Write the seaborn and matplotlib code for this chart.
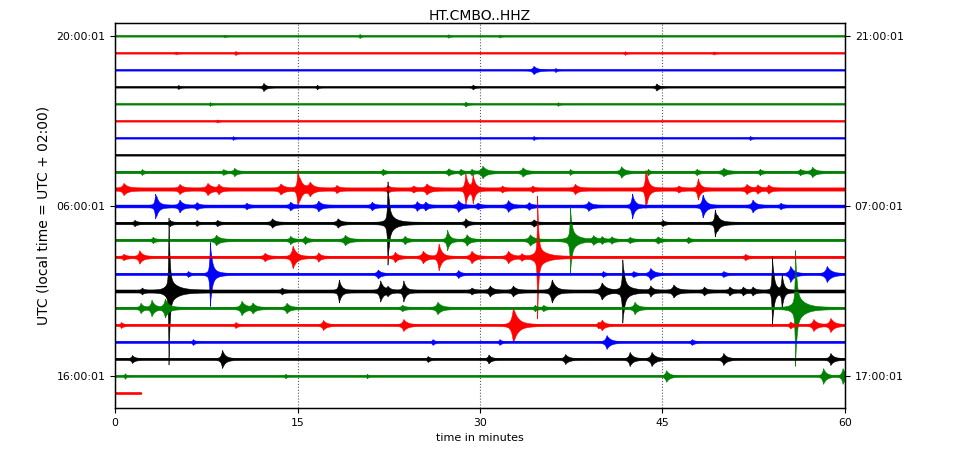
import numpy as np
import pandas as pd
import matplotlib
matplotlib.use("Agg")
import matplotlib.pyplot as plt
import seaborn as sns

# one trace per hour, 20:00 UTC through 17:00 UTC next day
trace_colors = ["green", "red", "blue", "black"]
n_traces = 22
trace_end = [60] * 21 + [2.1]   # last hour only has ~2 minutes of data

# background noise half-width in pixels per trace
noise_px = [0.6, 0.6, 0.6, 0.6, 0.6, 0.6, 0.6, 0.6,
            1.2, 1.6, 1.4, 1.2, 1.2, 1.2, 1.0, 1.5,
            1.2, 1.0, 0.9, 1.0, 0.8, 0.8]

left_ticks = [0, 10, 20]
left_labels = ["20:00:01", "06:00:01", "16:00:01"]
right_labels = ["21:00:01", "07:00:01", "17:00:01"]

# events: (trace, minute, half-amplitude px, decay minutes)
events = [
    (0, 9.0, 0.8, 0.1), (0, 20.1, 1.5, 0.1), (0, 27.4, 1.2, 0.1), (0, 31.6, 1.0, 0.1),
    (1, 5.0, 0.8, 0.1), (1, 9.9, 1.5, 0.1), (1, 41.9, 1.2, 0.1), (1, 49.2, 1.0, 0.1),
    (2, 34.4, 3.5, 0.3), (2, 36.2, 1.5, 0.1),
    (3, 5.2, 1.5, 0.1), (3, 12.2, 3.5, 0.2), (3, 16.6, 1.8, 0.1), (3, 29.4, 1.8, 0.15),
    (3, 44.5, 3.0, 0.2),
    (4, 7.8, 1.3, 0.1), (4, 28.8, 1.8, 0.15), (4, 36.4, 1.2, 0.1),
    (5, 8.4, 1.0, 0.1),
    (6, 9.7, 1.3, 0.1), (6, 34.4, 1.5, 0.1), (6, 52.2, 1.5, 0.1),
    (8, 2.2, 1.8, 0.1), (8, 8.9, 1.8, 0.15), (8, 9.8, 3.0, 0.2), (8, 22.0, 2.0, 0.15),
    (8, 27.4, 2.5, 0.2), (8, 28.4, 2.0, 0.15), (8, 29.3, 2.0, 0.15), (8, 30.2, 5.0, 0.3),
    (8, 33.5, 3.5, 0.25), (8, 37.4, 1.8, 0.1), (8, 41.6, 4.5, 0.25), (8, 43.8, 2.0, 0.1),
    (8, 47.8, 2.0, 0.15), (8, 50.0, 3.0, 0.3), (8, 53.0, 2.0, 0.15), (8, 56.3, 2.0, 0.2),
    (8, 57.3, 4.0, 0.25),
    (9, 0.7, 4.5, 0.3), (9, 5.3, 3.5, 0.25), (9, 7.6, 4.5, 0.3), (9, 8.5, 3.5, 0.2),
    (9, 13.6, 4.0, 0.3), (9, 15.0, 16.0, 0.15), (9, 15.2, 5.0, 0.4), (9, 16.0, 5.0, 0.3),
    (9, 18.2, 2.5, 0.2), (9, 22.4, 2.5, 0.2), (9, 24.5, 2.0, 0.2), (9, 25.6, 4.0, 0.3),
    (9, 28.8, 14.0, 0.2), (9, 29.4, 12.0, 0.2), (9, 31.8, 2.0, 0.15), (9, 34.3, 2.0, 0.15),
    (9, 37.8, 3.5, 0.25), (9, 43.6, 15.0, 0.15), (9, 43.7, 5.0, 0.3), (9, 46.3, 2.0, 0.2),
    (9, 47.9, 9.0, 0.2), (9, 51.9, 3.5, 0.25), (9, 52.8, 3.0, 0.2), (9, 53.7, 3.0, 0.2),
    (10, 3.3, 9.0, 0.15), (10, 3.4, 4.0, 0.3), (10, 5.3, 5.0, 0.25), (10, 6.7, 2.5, 0.2),
    (10, 10.8, 2.0, 0.15), (10, 14.4, 3.0, 0.2), (10, 16.7, 4.0, 0.25), (10, 21.1, 3.0, 0.2),
    (10, 24.8, 3.5, 0.2), (10, 25.5, 3.0, 0.2), (10, 28.2, 4.5, 0.25), (10, 29.8, 2.0, 0.2),
    (10, 32.3, 4.5, 0.25), (10, 34.0, 2.5, 0.2), (10, 38.9, 3.5, 0.25), (10, 42.5, 11.0, 0.2),
    (10, 48.3, 10.0, 0.25), (10, 52.4, 5.0, 0.25), (10, 54.7, 2.0, 0.15),
    (11, 1.6, 2.0, 0.15), (11, 4.5, 2.0, 0.15), (11, 6.7, 1.8, 0.1), (11, 8.4, 2.0, 0.15),
    (11, 12.9, 3.5, 0.25), (11, 18.3, 3.5, 0.25), (11, 22.4, 34.0, 0.1), (11, 22.5, 10.0, 0.5),
    (11, 28.8, 3.5, 0.2), (11, 34.4, 2.5, 0.2), (11, 45.0, 2.0, 0.15), (11, 49.3, 11.0, 0.15),
    (11, 49.5, 4.0, 0.4),
    (12, 3.1, 2.0, 0.15), (12, 8.3, 4.0, 0.3), (12, 14.4, 3.0, 0.2), (12, 15.6, 3.0, 0.2),
    (12, 18.9, 4.0, 0.3), (12, 23.8, 3.0, 0.2), (12, 27.3, 9.0, 0.2), (12, 28.9, 4.5, 0.25),
    (12, 34.1, 4.5, 0.3), (12, 37.4, 26.0, 0.1), (12, 37.5, 9.0, 0.5), (12, 39.3, 3.5, 0.25),
    (12, 40.0, 2.5, 0.2), (12, 40.8, 2.5, 0.2), (12, 42.3, 2.0, 0.2), (12, 44.6, 2.5, 0.2),
    (12, 47.1, 2.0, 0.15),
    (13, 0.7, 2.0, 0.2), (13, 2.0, 5.5, 0.25), (13, 12.3, 3.0, 0.25), (13, 14.6, 10.0, 0.3),
    (13, 16.7, 3.5, 0.2), (13, 23.0, 4.0, 0.25), (13, 25.3, 5.0, 0.3), (13, 26.6, 12.0, 0.25),
    (13, 29.3, 5.0, 0.3), (13, 32.3, 5.0, 0.3), (13, 33.4, 2.5, 0.2), (13, 34.7, 52.0, 0.08),
    (13, 34.75, 10.0, 0.6), (13, 51.8, 2.0, 0.15),
    (14, 6.0, 2.0, 0.15), (14, 7.8, 27.0, 0.12), (14, 7.9, 7.0, 0.4), (14, 21.6, 3.5, 0.25),
    (14, 28.2, 3.0, 0.2), (14, 40.1, 2.0, 0.15), (14, 42.6, 2.0, 0.2), (14, 44.0, 5.0, 0.3),
    (14, 50.0, 2.0, 0.2), (14, 55.5, 7.0, 0.3), (14, 58.5, 7.0, 0.35),
    (15, 2.2, 2.0, 0.15), (15, 4.4, 62.0, 0.08), (15, 4.45, 12.0, 0.6), (15, 13.7, 2.0, 0.15),
    (15, 18.4, 10.0, 0.2), (15, 21.8, 9.0, 0.25), (15, 22.4, 3.0, 0.2), (15, 23.7, 9.0, 0.2),
    (15, 29.3, 2.0, 0.2), (15, 30.8, 4.0, 0.25), (15, 32.7, 4.0, 0.25), (15, 35.9, 10.0, 0.3),
    (15, 40.0, 7.0, 0.35), (15, 41.7, 25.0, 0.12), (15, 41.8, 8.0, 0.5), (15, 44.0, 4.0, 0.2),
    (15, 45.9, 5.0, 0.3), (15, 48.4, 3.0, 0.2), (15, 50.5, 3.0, 0.2), (15, 51.6, 3.0, 0.2),
    (15, 52.4, 3.0, 0.2), (15, 54.0, 30.0, 0.1), (15, 54.1, 8.0, 0.3), (15, 54.8, 15.0, 0.15),
    (16, 2.1, 4.0, 0.2), (16, 3.0, 7.0, 0.25), (16, 4.1, 8.0, 0.3), (16, 10.4, 6.0, 0.3),
    (16, 11.3, 4.0, 0.25), (16, 14.1, 4.0, 0.25), (16, 23.6, 2.0, 0.2), (16, 26.5, 5.0, 0.3),
    (16, 34.5, 2.0, 0.15), (16, 35.2, 2.0, 0.15), (16, 42.7, 5.0, 0.25), (16, 55.9, 47.0, 0.1),
    (16, 56.0, 14.0, 0.6),
    (17, 0.5, 2.0, 0.15), (17, 9.9, 2.0, 0.15), (17, 17.1, 4.0, 0.25), (17, 23.7, 5.0, 0.3),
    (17, 32.7, 12.0, 0.3), (17, 32.8, 5.0, 0.6), (17, 39.7, 2.0, 0.15), (17, 40.0, 4.0, 0.25),
    (17, 55.5, 2.5, 0.2), (17, 57.4, 5.0, 0.3), (17, 58.8, 6.0, 0.3),
    (18, 6.4, 2.0, 0.15), (18, 26.1, 2.0, 0.15), (18, 31.6, 2.0, 0.15), (18, 40.4, 6.0, 0.3),
    (18, 47.4, 2.0, 0.2),
    (19, 1.4, 3.0, 0.2), (19, 8.8, 8.0, 0.25), (19, 25.7, 2.0, 0.15), (19, 30.7, 3.5, 0.2),
    (19, 37.0, 4.0, 0.25), (19, 42.3, 6.0, 0.25), (19, 44.1, 6.0, 0.3), (19, 50.0, 5.0, 0.25),
    (19, 58.8, 5.0, 0.25),
    (20, 0.8, 2.0, 0.1), (20, 14.0, 1.5, 0.1), (20, 20.7, 1.5, 0.1), (20, 45.3, 5.0, 0.25),
    (20, 58.2, 7.0, 0.25), (20, 59.8, 7.0, 0.25),
]
ev = pd.DataFrame(events, columns=["trace", "minute", "amp_px", "decay"])

PX_PER_TRACE = 17.0

sns.set_style("ticks", {"axes.edgecolor": "black", "text.color": "black",
                        "xtick.color": "black", "ytick.color": "black",
                        "axes.labelcolor": "black"})
plt.rcParams["font.family"] = ["DejaVu Sans"]

fig = plt.figure(figsize=(9.6, 4.53), dpi=100)
ax = fig.add_axes([115 / 960, 1 - 408 / 453, 730 / 960, 385 / 453])

t = np.linspace(0, 60, 6001)
for i in range(n_traces):
    color = trace_colors[i % 4]
    tt = t[t <= trace_end[i]]
    env = np.full_like(tt, noise_px[i])
    for _, e in ev[ev["trace"] == i].iterrows():
        dt = tt - e["minute"]
        shape = np.where(dt >= 0, np.exp(-dt / e["decay"]),
                         np.exp(dt / (0.45 * e["decay"])))
        env += e["amp_px"] * shape
    env = env / PX_PER_TRACE
    yc = -i
    ax.fill_between(tt, yc - env, yc + env, color=color, lw=0.4)
    sns.lineplot(x=tt, y=np.full_like(tt, yc), color=color, lw=1.0, ax=ax)

ax.set_xlim(0, 60)
ax.set_ylim(-21 - 15 / PX_PER_TRACE, 13 / PX_PER_TRACE)
ax.set_xticks([0, 15, 30, 45, 60])
ax.tick_params(axis="both", labelsize=7.8, direction="out", length=3.5, width=0.8,
               colors="black")
ax.set_yticks([-k for k in left_ticks])
ax.set_yticklabels(left_labels)
ax.xaxis.grid(True, color="0.35", linestyle=":", linewidth=0.8)
ax.set_axisbelow(True)
ax.set_xlabel("time in minutes", fontsize=8, color="black")
ax.set_ylabel("UTC (local time = UTC + 02:00)", fontsize=10, color="black")
ax.set_title("HT.CMBO..HHZ", fontsize=10, pad=2, color="black")
for s in ax.spines.values():
    s.set_color("black")
    s.set_linewidth(1.0)

ax2 = ax.twinx()
ax2.set_ylim(ax.get_ylim())
ax2.set_yticks([-k for k in left_ticks])
ax2.set_yticklabels(right_labels)
ax2.tick_params(axis="y", labelsize=7.8, direction="out", length=3.5, width=0.8,
                colors="black")

fig.savefig("out.png", dpi=100)
